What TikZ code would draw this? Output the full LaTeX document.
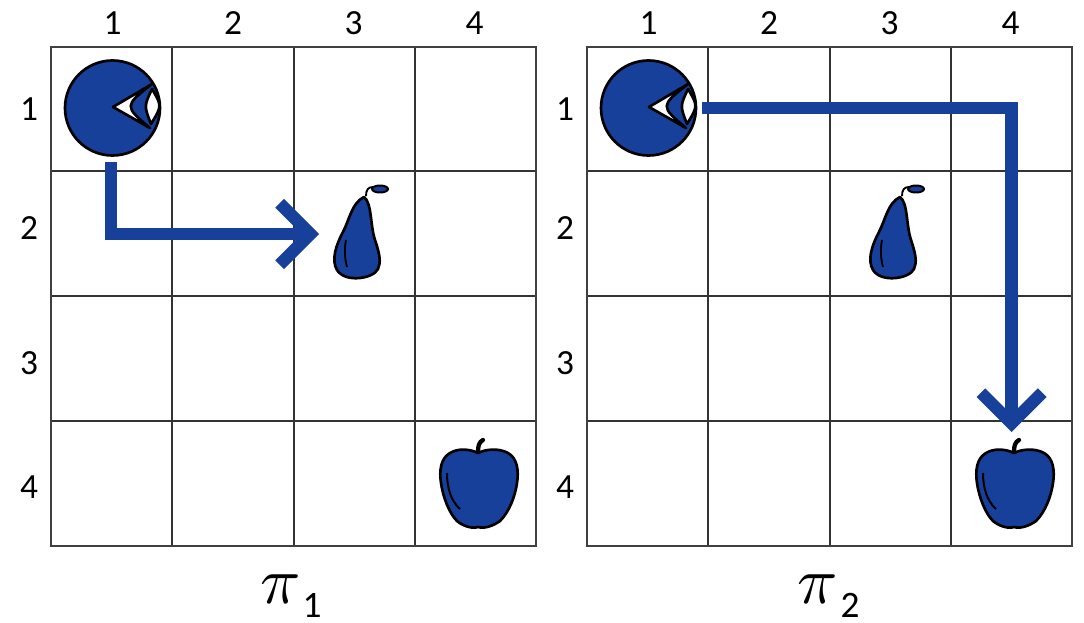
\documentclass[tikz,border=0pt]{standalone}
\usepackage{fontspec}
\setmainfont{Carlito}
\usetikzlibrary{arrows.meta}
\definecolor{fruitblue}{HTML}{17409A}

\begin{document}
\begin{tikzpicture}[
  x=0.75pt, y=-0.75pt,
  frameline/.style={draw=black!75, line width=1.1pt},
  gridline/.style={draw=black!80, line width=0.8pt},
  digit/.style={font=\fontsize{26.5}{26.5}\selectfont, inner sep=0pt},
  subdigit/.style={font=\fontsize{28}{28}\selectfont, inner sep=0pt},
  title/.style={scale=5, inner sep=0pt},
  ink/.style={draw=black, line width=2pt, line join=round},
  body/.style={ink, fill=fruitblue},
  hole/.style={ink, fill=white},
  eyedisc/.style={body, circle, minimum size=71.25pt, inner sep=0pt},
  route/.style={draw=fruitblue, line width=9.2pt, line join=miter,
    -{Straight Barb[length=23pt, width=46pt, line width=9.2pt, sharp]}}]
  \useasboundingbox (0,0) rectangle (1084,623);

  \foreach \ox/\pn in {0/1,536/2} {
    \begin{scope}[shift={(\ox,0)}]
      \foreach \x in {172,294,415} \draw[gridline] (\x,47) -- (\x,546);
      \foreach \y in {171,296,421} \draw[gridline] (51,\y) -- (536,\y);
      \draw[frameline] (51,47) rectangle (536,546);

      \foreach \n/\x in {1/112.5,2/233,3/353.5,4/474.5}
        \node[digit] (col\pn\n) at (\x,23) {\n};
      \foreach \n/\y in {1/109,2/228,3/363,4/487}
        \node[digit] (row\pn\n) at (29,\y) {\n};

      % eye
      \node[eyedisc] (eye\pn) at (112.5,108) {};
      \draw[hole] (113,107) -- (152,84) .. controls (124,106) .. (150,128) -- cycle;
      \draw[hole] (152,89) .. controls (144,106) .. (151,124) .. controls (162,106) .. cycle;

      % pear
      \draw[body] (364,197) .. controls (372,203) and (370,225) .. (375,240)
        .. controls (380,255) and (381,262) .. (378,269)
        .. controls (373,279) and (345,283) .. (337,270)
        .. controls (331,260) and (336,245) .. (343,232)
        .. controls (350,218) and (352,203) .. (364,197) -- cycle;
      \draw[ink, line width=1.4pt] (366,196) .. controls (366,190) and (368,187) .. (373,187);
      \draw[ink, fill=fruitblue, line width=1.5pt] (380,189) ellipse (8 and 3.5);
      \draw[ink, line width=1.4pt] (346,240) .. controls (344,250) and (345,260) .. (347,267);

      % apple
      \draw[body] (478,453) .. controls (470,449) and (458,448) .. (450,453)
        .. controls (441,458) and (439,470) .. (441,483)
        .. controls (443,497) and (449,513) .. (457,521)
        .. controls (463,526) and (472,529) .. (478,527)
        .. controls (484,529) and (493,526) .. (500,521)
        .. controls (509,512) and (515,497) .. (517,483)
        .. controls (519,470) and (517,458) .. (508,453)
        .. controls (499,448) and (486,449) .. (478,453) -- cycle;
      \draw[ink, line width=3.2pt, line cap=round] (478,452) .. controls (478,446) and (479,442) .. (483,440);
      \draw[ink, line width=1.5pt] (447,473) .. controls (447,488) and (451,501) .. (460,509);
    \end{scope}
  }

  \node[title] (piA) at (281,589) {$\pi$};
  \node[subdigit] (subA) at (312,605) {1};
  \node[title] (piB) at (818,589) {$\pi$};
  \node[subdigit] (subB) at (850,605) {2};

  \coordinate (startA) at (111,162);
  \coordinate (tipA) at (319,234);
  \coordinate (startB) at (702,108);
  \coordinate (tipB) at (1011.5,432);
  \draw[route] (startA) |- (tipA);
  \draw[route] (startB) -| (tipB);
\end{tikzpicture}
\end{document}
